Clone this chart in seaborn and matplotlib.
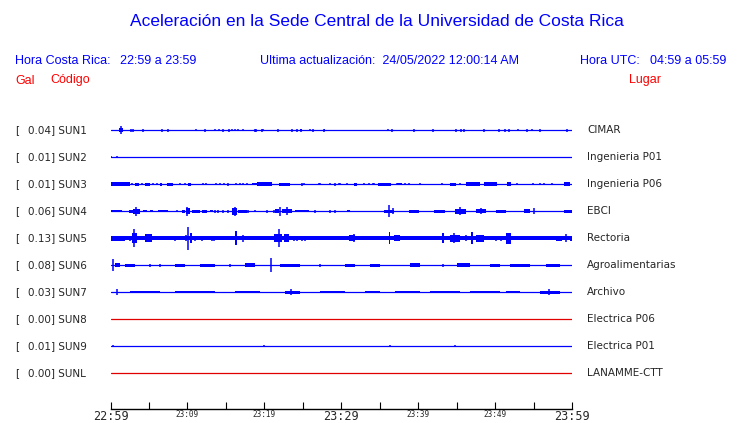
import matplotlib
matplotlib.use('Agg')
import matplotlib.pyplot as plt
import seaborn as sns
import pandas as pd

# stations, top to bottom
stations = ['SUN1', 'SUN2', 'SUN3', 'SUN4', 'SUN5', 'SUN6', 'SUN7', 'SUN8', 'SUN9', 'SUNL']
peak_gal = [0.04, 0.01, 0.01, 0.06, 0.13, 0.08, 0.03, 0.00, 0.01, 0.00]
places = ['CIMAR', 'Ingenieria P01', 'Ingenieria P06', 'EBCI', 'Rectoria',
          'Agroalimentarias', 'Archivo', 'Electrica P06', 'Electrica P01', 'LANAMME-CTT']
no_signal = ['SUN8', 'SUNL']

# time axis, minutes after 22:59
tick_minutes = [0, 10, 20, 30, 40, 50, 60]
tick_labels = ['22:59', '23:09', '23:19', '23:29', '23:39', '23:49', '23:59']
big_ticks = ['22:59', '23:29', '23:59']

# continuous noise (half height, px)
noise = [0.0, 0.0, 0.0, 0.0, 1.7, 0.0, 0.0, 0.0, 0.0, 0.0]

# noisy stretches: (start min, end min, half height px)
bands = {
    'SUN1': [(1.1, 1.6, 2.0), (24.6, 24.9, 1.2), (27.7, 27.9, 1.2)],
    'SUN2': [],
    'SUN3': [(0.0, 2.5, 1.7), (3.2, 3.75, 1.5), (4.5, 5.1, 1.5), (6.4, 6.7, 1.5),
             (7.3, 8.1, 1.5), (10.1, 10.5, 1.5), (18.4, 19.0, 1.3), (19.0, 21.0, 1.7),
             (21.9, 23.3, 1.5), (31.6, 32.0, 1.5), (34.8, 36.5, 1.5), (37.2, 37.9, 1.3),
             (44.1, 44.9, 1.5), (46.2, 48.0, 1.7), (48.5, 50.3, 1.7), (51.6, 52.1, 1.7),
             (58.9, 59.7, 1.7)],
    'SUN4': [(0.0, 1.45, 1.4), (2.45, 2.97, 1.5), (2.97, 3.84, 2.5), (4.27, 4.71, 1.4),
             (5.14, 5.58, 1.4), (6.23, 7.53, 1.4), (9.27, 9.7, 1.5), (9.83, 10.35, 3.0),
             (10.57, 11.65, 1.5), (11.87, 12.52, 1.5), (12.96, 13.39, 1.4),
             (15.78, 16.43, 3.5), (16.64, 17.73, 1.5), (21.42, 21.85, 2.0), (22.29, 23.59, 2.0),
             (24.02, 25.76, 1.4), (30.75, 31.18, 1.4), (35.5, 36.8, 1.5), (38.8, 40.1, 1.5),
             (42.0, 43.5, 1.5), (44.8, 46.2, 2.5), (47.5, 48.8, 2.0), (50.1, 51.4, 1.5),
             (53.8, 54.6, 2.0), (59.0, 60.0, 1.5)],
    'SUN5': [(0.0, 1.89, 2.5), (2.76, 3.41, 5.0), (4.49, 5.36, 4.0), (10.35, 10.57, 5.0),
             (16.21, 16.51, 7.0), (21.2, 22.29, 4.0), (22.5, 23.15, 4.0), (30.96, 31.83, 3.0),
             (36.17, 36.39, 6.0), (36.82, 37.6, 3.0), (43.12, 43.42, 5.0), (44.2, 45.5, 3.5),
             (46.9, 47.16, 6.0), (47.46, 48.54, 3.5), (51.36, 52.01, 5.5), (57.87, 58.74, 2.5),
             (59.73, 60.0, 2.5)],
    'SUN6': [(0.6, 1.2, 2.0), (1.9, 3.2, 1.5), (8.4, 9.7, 1.5), (11.7, 13.6, 1.5),
             (17.5, 18.8, 2.0), (22.1, 24.7, 1.5), (30.5, 31.8, 1.5), (33.8, 35.1, 1.5),
             (39.0, 40.3, 2.0), (45.1, 46.8, 2.0), (49.4, 50.7, 1.5), (52.0, 54.6, 1.5),
             (56.6, 58.5, 1.5)],
    'SUN7': [(2.5, 6.4, 1.3), (8.4, 13.6, 1.3), (16.2, 19.5, 1.3), (22.7, 24.7, 1.5),
             (27.3, 30.5, 1.3), (33.1, 35.1, 1.3), (37.0, 40.3, 1.3), (41.6, 45.5, 1.3),
             (46.8, 50.7, 1.3), (51.4, 53.3, 1.3), (55.9, 58.5, 1.5)],
    'SUN8': [],
    'SUN9': [],
    'SUNL': [],
}

# single spikes: (minute, half height px)
spikes = {
    'SUN1': [(1.33, 4.0), (2.63, 1.5), (2.97, 1.5), (4.27, 1.5), (6.66, 1.5), (7.53, 1.5),
             (11.09, 1.0), (12.26, 1.5), (13.65, 1.0), (14.09, 1.0), (14.6, 1.5), (15.39, 1.5),
             (15.82, 1.0), (16.17, 1.0), (16.64, 1.0), (17.29, 1.0), (18.77, 1.5), (18.98, 1.5),
             (19.69, 1.5), (19.89, 1.0), (21.72, 1.5), (23.59, 1.5), (24.24, 1.5), (24.76, 1.5),
             (25.88, 1.0), (26.33, 1.5), (27.8, 1.5), (36.04, 1.0), (36.61, 1.5), (39.42, 1.5),
             (41.9, 1.5), (44.94, 1.5), (45.6, 1.5), (45.93, 1.5), (48.54, 1.5), (50.49, 1.5),
             (51.27, 1.5), (51.79, 1.5), (52.96, 1.0), (54.19, 1.5), (54.84, 1.0), (55.83, 1.5),
             (59.4, 1.5)],
    'SUN2': [(0.1, 1.2), (0.9, 1.0)],
    'SUN3': [(2.76, 1.2), (4.06, 1.2), (4.79, 1.2), (5.57, 1.2), (6.02, 1.2), (9.05, 1.2),
             (9.7, 1.2), (12.08, 1.2), (12.43, 1.2), (13.75, 1.2), (14.26, 1.2), (14.78, 1.2),
             (15.34, 1.5), (16.3, 1.2), (16.86, 1.2), (17.29, 1.2), (17.73, 1.2), (24.89, 1.5),
             (25.19, 1.2), (27.06, 1.2), (27.26, 1.2), (28.58, 1.2), (29.23, 1.5), (29.66, 1.2),
             (29.88, 1.2), (30.75, 1.2), (32.91, 1.2), (33.57, 1.2), (34.14, 1.2), (34.31, 1.2),
             (35.52, 1.2), (37.26, 1.2), (38.34, 1.2), (38.77, 1.2), (40.3, 1.0), (43.12, 1.2),
             (45.5, 1.2), (52.89, 1.2), (54.92, 1.2), (55.83, 1.2), (56.35, 1.2), (57.44, 1.2)],
    'SUN4': [(3.32, 4.5), (8.62, 1.0), (10.0, 4.5), (13.61, 1.5), (14.04, 1.5), (14.69, 1.5),
             (15.34, 1.5), (16.13, 4.5), (17.94, 1.5), (18.8, 1.0), (20.33, 1.5), (21.2, 1.5),
             (22.07, 4.5), (22.94, 4.0), (26.54, 1.5), (28.58, 1.5), (29.23, 1.5),
             (36.2, 6.0), (36.7, 3.0), (45.5, 4.0), (48.2, 3.0), (55.0, 3.0)],
    'SUN5': [(2.54, 2.5), (3.1, 9.0), (6.66, 2.0), (7.1, 2.0), (7.53, 2.0), (8.4, 2.5),
             (9.83, 3.0), (10.13, 11.5), (11.0, 2.5), (11.87, 2.5), (13.18, 2.5), (13.48, 2.5),
             (17.29, 3.5), (19.69, 2.0), (21.85, 9.0), (23.8, 2.5), (24.24, 2.5), (24.9, 2.5),
             (25.32, 2.5), (28.15, 1.5), (31.61, 4.0), (32.91, 2.0), (33.57, 2.0), (34.22, 2.0),
             (35.09, 2.0), (44.64, 5.0), (46.16, 3.0), (50.06, 2.5), (50.71, 2.5), (52.45, 2.0),
             (55.05, 1.5), (57.44, 2.0), (59.17, 4.0)],
    'SUN6': [(0.33, 6.0), (5.1, 1.5), (6.4, 1.5), (15.6, 1.5), (20.9, 7.0), (27.3, 1.5),
             (43.2, 1.5)],
    'SUN7': [(0.85, 3.0), (23.5, 3.0), (57.0, 3.0)],
    'SUN8': [],
    'SUN9': [(0.3, 1.2), (19.9, 1.0), (36.4, 1.0), (44.8, 1.0)],
    'SUNL': [],
}

sns.set_style('white')
plt.rcParams['font.family'] = ['DejaVu Sans']

fig = plt.figure(figsize=(7.4, 4.23), dpi=100)
W, H = 740, 423

def fx(px):
    return px / W

def fy(py):
    return 1 - py / H

# axes in pixel-like y units: rows at 130 + 27*i, time axis at 408.5
ax = fig.add_axes([fx(110.5), fy(408.5), (572 - 110.5) / W, (408.5 - 112) / H])
ax.set_xlim(0, 60)
ax.set_ylim(408.5, 112)

blue = '#0000ff'
red = '#e00000'

rows = []
for i, st in enumerate(stations):
    for m in [0, 60]:
        rows.append({'station': st, 'minute': m, 'y': 130 + 27 * i,
                     'status': 'off' if st in no_signal else 'ok'})
df = pd.DataFrame(rows)
sns.lineplot(data=df, x='minute', y='y', hue='status', units='station', estimator=None,
             palette={'ok': blue, 'off': red}, linewidth=0.9, legend=False, ax=ax)

for i, st in enumerate(stations):
    y0 = 130 + 27 * i
    c = red if st in no_signal else blue
    if noise[i] > 0:
        ax.fill_between([0, 60], y0 - noise[i], y0 + noise[i], color=c, lw=0)
    for s, e, h in bands[st]:
        ax.fill_between([s, e], y0 - h, y0 + h, color=c, lw=0)
    for m, h in spikes[st]:
        ax.vlines(m, y0 - h, y0 + h, color=c, lw=1.1)

    fig.text(fx(15), fy(y0), '[', fontsize=7.5, va='center', ha='left')
    fig.text(fx(28), fy(y0), f'{peak_gal[i]:.2f}] {st}', fontsize=7.5, va='center', ha='left')
    fig.text(fx(587), fy(y0), places[i], fontsize=7.5, va='center', ha='left')

# time axis
for sp in ['top', 'left', 'right']:
    ax.spines[sp].set_visible(False)
ax.spines['bottom'].set_color('black')
ax.spines['bottom'].set_linewidth(1.0)
ax.set_yticks([])
ax.set_xticks(tick_minutes)
ax.set_xticks([5, 15, 25, 35, 45, 55], minor=True)
ax.set_xticklabels(tick_labels, family='DejaVu Sans Mono')
for lab in ax.get_xticklabels():
    lab.set_fontsize(8.5 if lab.get_text() in big_ticks else 5.5)
ax.tick_params(axis='x', which='both', direction='in', length=5.4, width=0.8,
               color='black', pad=0.8, bottom=True)
ax.set_xlabel('')
ax.set_ylabel('')

# header
hdr = dict(family='Liberation Sans', fontsize=9, color=blue, va='center', ha='left')
fig.text(fx(376.5), fy(21), 'Aceleración en la Sede Central de la Universidad de Costa Rica',
         family='Liberation Sans', fontsize=12.5, color=blue, ha='center', va='center')
fig.text(fx(15), fy(60.5), 'Hora Costa Rica:', **hdr)
fig.text(fx(120), fy(60.5), '22:59 a 23:59', **hdr)
fig.text(fx(260), fy(60.5), 'Ultima actualización:  24/05/2022 12:00:14 AM', **hdr)
fig.text(fx(580), fy(60.5), 'Hora UTC:', **hdr)
fig.text(fx(650), fy(60.5), '04:59 a 05:59', **hdr)
red_hdr = dict(hdr, color='#ff0000')
fig.text(fx(15), fy(80.5), 'Gal', **red_hdr)
fig.text(fx(50), fy(80.5), 'Código', **red_hdr)
fig.text(fx(629), fy(80.5), 'Lugar', **red_hdr)

fig.savefig('out.png', dpi=100)
